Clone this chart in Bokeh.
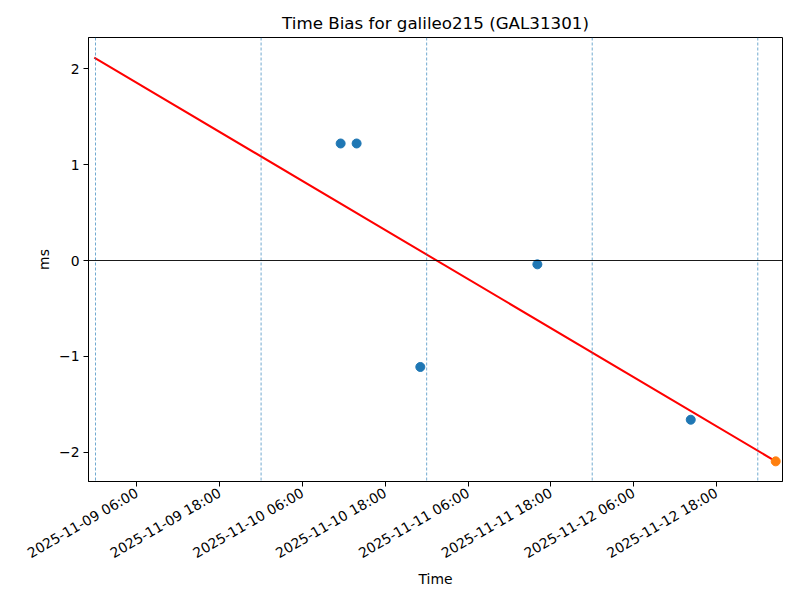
import math
import pandas as pd
from bokeh.plotting import figure
from bokeh.models import Range1d, FixedTicker, Span
from bokeh.embed import file_html
from bokeh.resources import INLINE

# ---- data ----
obs_times = ["2025-11-10 11:32", "2025-11-10 13:51", "2025-11-10 23:05",
             "2025-11-11 16:03", "2025-11-12 14:17"]
obs_bias_ms = [1.22, 1.22, -1.11, -0.04, -1.66]
latest_time = ["2025-11-13 02:36"]
latest_bias_ms = [-2.094]
fit_times = ["2025-11-08 23:49", "2025-11-13 02:36"]
fit_bias_ms = [2.115, -2.094]
day_marks = ["2025-11-09", "2025-11-10", "2025-11-11", "2025-11-12", "2025-11-13"]
x_tick_labels = ["2025-11-09 06:00", "2025-11-09 18:00", "2025-11-10 06:00",
                 "2025-11-10 18:00", "2025-11-11 06:00", "2025-11-11 18:00",
                 "2025-11-12 06:00", "2025-11-12 18:00"]
y_ticks = [-2, -1, 0, 1, 2]
x_limits = ["2025-11-08 22:59", "2025-11-13 03:35"]
y_limits = [-2.304, 2.325]


def ms(s):
    return pd.Timestamp(s).value / 1e6


FONT = "DejaVu Sans"

p = figure(width=800, height=600, x_axis_type="datetime",
           x_range=Range1d(ms(x_limits[0]), ms(x_limits[1])),
           y_range=Range1d(y_limits[0], y_limits[1]),
           output_backend="svg", toolbar_location=None,
           title="Time Bias for galileo215 (GAL31301)",
           min_border_left=88, min_border_right=18,
           min_border_top=37, min_border_bottom=119)

p.title.align = "center"
p.title.text_font = FONT
p.title.text_font_size = "16.7px"
p.title.text_font_style = "normal"
p.title.text_color = "black"
p.title.offset = 0

p.grid.visible = False
p.outline_line_color = "black"
p.outline_line_width = 1
p.background_fill_color = "white"
p.border_fill_color = "white"

# vertical day lines
for d in day_marks:
    p.add_layout(Span(location=ms(d), dimension="height", line_color="#1f77b4",
                      line_width=0.7, line_dash="3 2", line_alpha=0.9))
# zero line
p.add_layout(Span(location=0, dimension="width", line_color="black", line_width=0.9))

# fit line
p.line([ms(t) for t in fit_times], fit_bias_ms, line_color="red", line_width=2)

# observations
p.scatter([ms(t) for t in obs_times], obs_bias_ms, size=9, fill_color="#1f77b4",
          line_color="#1f77b4", line_width=1)
p.scatter([ms(t) for t in latest_time], latest_bias_ms, size=9, fill_color="#ff7f0e",
          line_color="#ff7f0e", line_width=1)

# axes
xt = [ms(t) for t in x_tick_labels]
p.xaxis.ticker = FixedTicker(ticks=xt)
p.xaxis.major_label_overrides = {v: lab for v, lab in zip(xt, x_tick_labels)}
p.xaxis.major_label_orientation = math.pi / 6
p.yaxis.ticker = FixedTicker(ticks=y_ticks)
p.yaxis.major_label_overrides = {v: (str(v).replace("-", "\u2212")) for v in y_ticks}

for ax in (p.xaxis[0], p.yaxis[0]):
    ax.major_label_text_font = FONT
    ax.major_label_text_font_size = "13.9px"
    ax.major_label_text_color = "black"
    ax.axis_label_text_font = FONT
    ax.axis_label_text_font_size = "13.9px"
    ax.axis_label_text_font_style = "normal"
    ax.axis_label_text_color = "black"
    ax.major_tick_in = 0
    ax.major_tick_out = 5
    ax.major_tick_line_color = "black"
    ax.minor_tick_line_color = None
    ax.axis_line_color = "black"
    ax.major_label_standoff = 4

p.xaxis.major_label_standoff = 5
p.xaxis.axis_label = "Time"
p.yaxis.axis_label = "ms"
p.xaxis.axis_label_standoff = 0
p.yaxis.axis_label_standoff = 4

open("out.html", "w").write(file_html(p, INLINE))
